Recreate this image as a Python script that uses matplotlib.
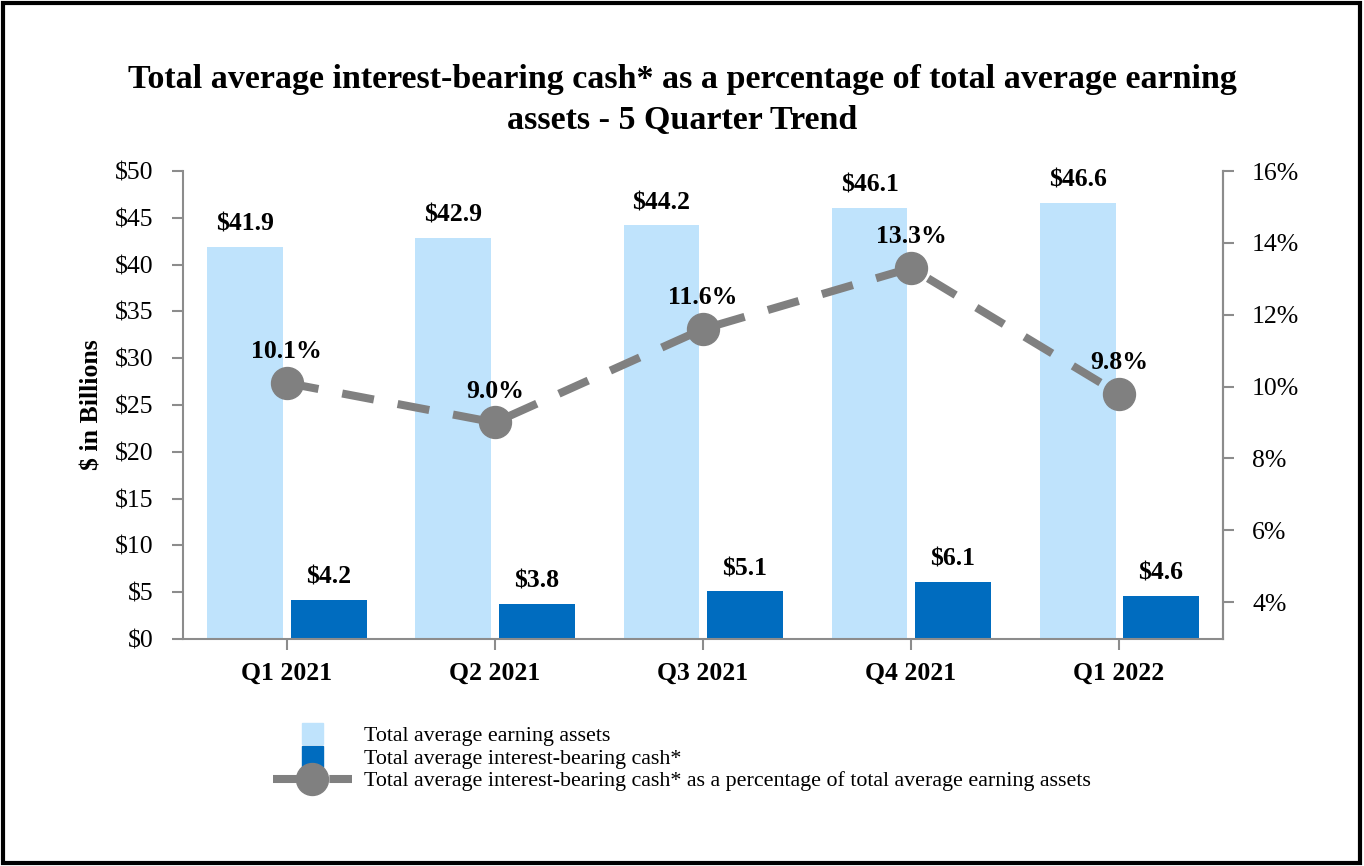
import matplotlib
matplotlib.use("Agg")
import matplotlib.pyplot as plt
import matplotlib.patches as mpatches
from matplotlib.lines import Line2D
from matplotlib.legend_handler import HandlerPatch
import numpy as np

# data
quarters = ["Q1 2021", "Q2 2021", "Q3 2021", "Q4 2021", "Q1 2022"]
earning_assets = [41.9, 42.9, 44.2, 46.1, 46.6]
ib_cash = [4.2, 3.8, 5.1, 6.1, 4.6]
cash_pct = [10.1, 9.0, 11.6, 13.3, 9.8]
left_ticks = [0, 5, 10, 15, 20, 25, 30, 35, 40, 45, 50]
right_ticks = [4, 6, 8, 10, 12, 14, 16]

LIGHT = "#BFE3FC"
DARK = "#006CBF"
GREY = "#808080"
AXC = "#8c8c8c"

plt.rcParams['font.family'] = ['Liberation Serif', 'DejaVu Serif']

fig = plt.figure(figsize=(13.64, 8.66), dpi=100)
ax = fig.add_axes([0.134, 0.262, 0.7626, 0.5405])
ax2 = ax.twinx()

x = np.arange(len(quarters))
w = 0.365
ax.bar(x - 0.199, earning_assets, w, color=LIGHT, zorder=1)
ax.bar(x + 0.201, ib_cash, w, color=DARK, zorder=1)

for i in range(len(x)):
    ax.text(x[i] - 0.199, earning_assets[i] + 1.2, "$%.1f" % earning_assets[i],
            ha="center", va="bottom", fontsize=18.5, fontweight="bold")
    ax.text(x[i] + 0.201, ib_cash[i] + 1.2, "$%.1f" % ib_cash[i],
            ha="center", va="bottom", fontsize=18.5, fontweight="bold")

ax2.plot(x, cash_pct, color=GREY, lw=5.8, dashes=(4, 3), dash_capstyle="butt",
         marker="o", markersize=23, zorder=3)
for i in range(len(x)):
    ax2.text(x[i], cash_pct[i] + 0.55, "%.1f%%" % cash_pct[i],
             ha="center", va="bottom", fontsize=18.5, fontweight="bold")

ax.set_xlim(-0.5, 4.5)
ax.set_ylim(0, 50)
ax2.set_ylim(2.97, 16)
ax.set_yticks(left_ticks)
ax.set_yticklabels(["$%d" % v for v in left_ticks], fontsize=18.5)
ax2.set_yticks(right_ticks)
ax2.set_yticklabels(["%d%%" % v for v in right_ticks], fontsize=18.5)
ax.set_xticks(x)
ax.set_xticklabels(quarters, fontsize=18.5, fontweight="bold")
ax.set_ylabel("$ in Billions", fontsize=18.5, fontweight="bold", labelpad=8)

for a in (ax, ax2):
    a.spines["top"].set_visible(False)
    for s in ("left", "right", "bottom"):
        a.spines[s].set_color(AXC)
        a.spines[s].set_linewidth(1.5)
    a.tick_params(colors=AXC, labelcolor="black", width=1.5, length=8, pad=13)
ax.tick_params(axis="x", pad=8)
ax2.spines["left"].set_visible(False)
ax2.spines["bottom"].set_visible(False)
ax2.set_zorder(ax.get_zorder() + 1)
ax2.patch.set_visible(False)

fig.suptitle("Total average interest-bearing cash* as a percentage of total average earning\nassets - 5 Quarter Trend",
             y=0.926, fontsize=24.5, fontweight="bold", linespacing=1.4)


def square(legend, orig_handle, xdescent, ydescent, width, height, fontsize):
    s = 21 * 72 / 100.0
    return mpatches.Rectangle((width / 2 - s / 2 - xdescent, height / 2 - s / 2 - ydescent), s, s)


handles = [mpatches.Patch(color=LIGHT), mpatches.Patch(color=DARK),
           Line2D([], [], color=GREY, lw=5.8, dashes=(4, 3), marker="o", markersize=23)]
labels = ["Total average earning assets", "Total average interest-bearing cash*",
          "Total average interest-bearing cash* as a percentage of total average earning assets"]
fig.legend(handles, labels, loc="upper left", bbox_to_anchor=(0.1935, 0.172),
           frameon=False, fontsize=15.8, handlelength=3.6, handletextpad=0.55,
           labelspacing=0.1, borderaxespad=0,
           handler_map={mpatches.Patch: HandlerPatch(patch_func=square)})

fig.patches.append(mpatches.Rectangle((0.002, 0.003), 0.995, 0.994, transform=fig.transFigure,
                                      fill=False, edgecolor="black", linewidth=3))

fig.savefig("out.png", dpi=100)
